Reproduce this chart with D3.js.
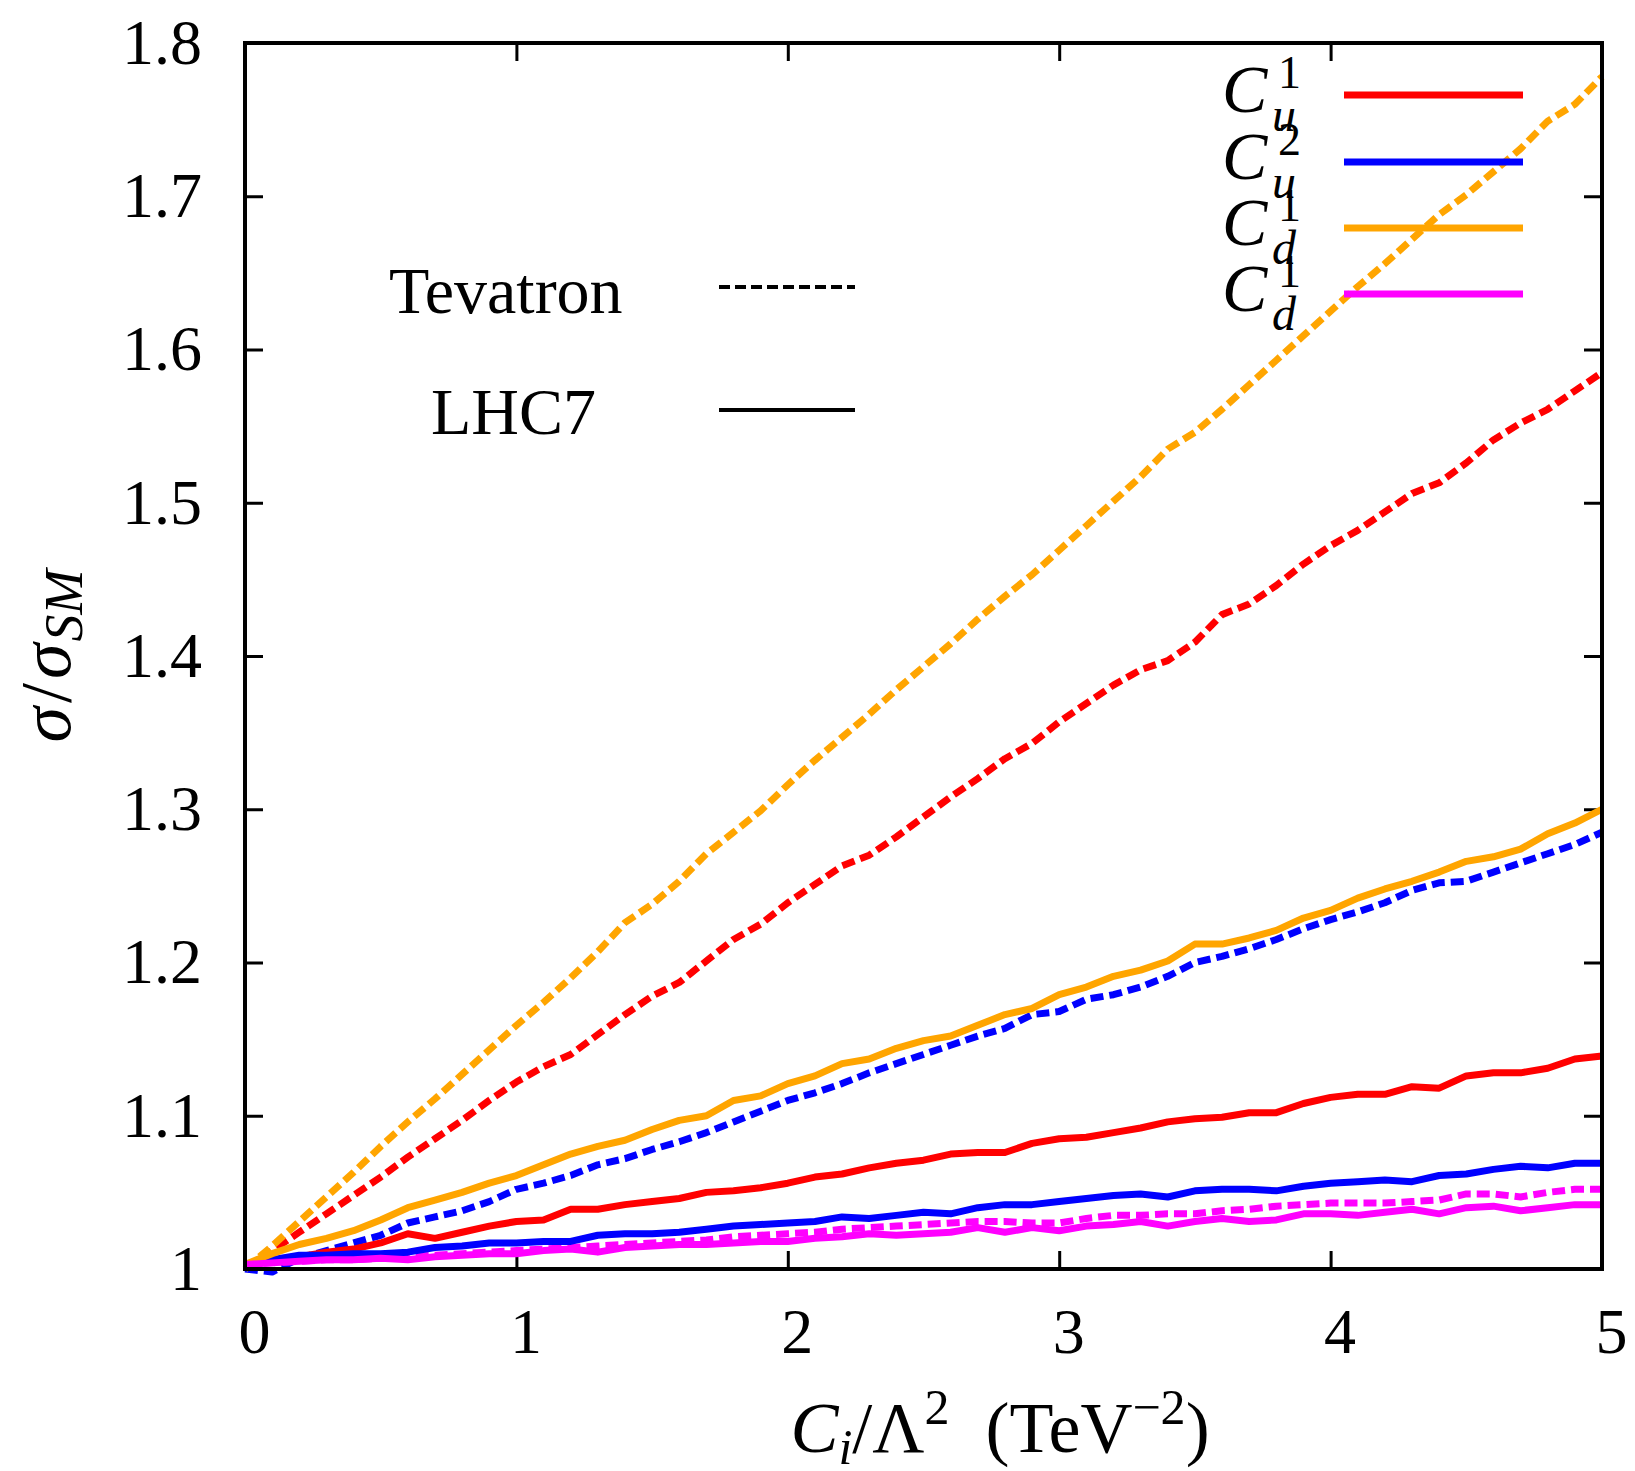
<!DOCTYPE html>
<html>
<head>
<meta charset="utf-8">
<script src="https://cdn.jsdelivr.net/npm/d3@7"></script>
<style>
  body { margin: 0; background: #fff; }
</style>
</head>
<body>
<svg id="chart" width="1635" height="1471"></svg>
<script>
// x grid (C_i / Lambda^2)
const xValues = [0,0.1,0.2,0.3,0.4,0.5,0.6,0.7,0.8,0.9,1,1.1,1.2,1.3,1.4,1.5,1.6,1.7,1.8,1.9,2,
  2.1,2.2,2.3,2.4,2.5,2.6,2.7,2.8,2.9,3,3.1,3.2,3.3,3.4,3.5,3.6,3.7,3.8,3.9,4,
  4.1,4.2,4.3,4.4,4.5,4.6,4.7,4.8,4.9,5];

// Tevatron (dashed)
const tevCu1 = [1.000,1.012,1.024,1.036,1.048,1.060,1.073,1.085,1.097,1.110,1.122,1.132,1.140,1.153,1.166,1.178,1.187,1.201,1.215,1.225,1.239,
  1.251,1.263,1.270,1.282,1.295,1.308,1.320,1.333,1.343,1.357,1.369,1.381,1.391,1.397,1.409,1.427,1.434,1.446,1.460,1.472,
  1.482,1.494,1.506,1.513,1.526,1.541,1.552,1.561,1.573,1.585];
const tevCu2 = [1.000,0.998,1.007,1.012,1.017,1.022,1.030,1.034,1.038,1.044,1.052,1.056,1.061,1.068,1.072,1.078,1.083,1.089,1.096,1.103,1.110,
  1.115,1.121,1.128,1.134,1.140,1.146,1.152,1.157,1.166,1.168,1.176,1.179,1.184,1.191,1.200,1.204,1.209,1.215,1.222,1.228,
  1.233,1.239,1.247,1.252,1.253,1.259,1.265,1.271,1.277,1.285];
const tevCd1 = [1.000,1.015,1.031,1.047,1.063,1.080,1.096,1.111,1.127,1.143,1.159,1.174,1.190,1.207,1.226,1.238,1.253,1.271,1.285,1.299,1.316,
  1.332,1.347,1.362,1.378,1.393,1.408,1.424,1.439,1.453,1.469,1.485,1.501,1.517,1.535,1.546,1.561,1.577,1.593,1.609,1.625,
  1.641,1.656,1.672,1.688,1.701,1.716,1.731,1.749,1.760,1.778];
const tevCd2 = [1.003,1.004,1.005,1.006,1.006,1.007,1.008,1.009,1.010,1.011,1.012,1.013,1.014,1.015,1.016,1.017,1.018,1.019,1.021,1.022,1.023,
  1.024,1.026,1.027,1.028,1.029,1.030,1.031,1.031,1.030,1.030,1.033,1.035,1.035,1.036,1.036,1.038,1.039,1.041,1.042,1.043,
  1.043,1.043,1.044,1.045,1.049,1.049,1.047,1.050,1.052,1.052];

// LHC7 (solid)
const lhcCu1 = [1.003,1.005,1.008,1.011,1.013,1.017,1.023,1.020,1.024,1.028,1.031,1.032,1.039,1.039,1.042,1.044,1.046,1.050,1.051,1.053,1.056,
  1.060,1.062,1.066,1.069,1.071,1.075,1.076,1.076,1.082,1.085,1.086,1.089,1.092,1.096,1.098,1.099,1.102,1.102,1.108,1.112,
  1.114,1.114,1.119,1.118,1.126,1.128,1.128,1.131,1.137,1.139];
const lhcCu2 = [1.003,1.006,1.009,1.009,1.010,1.010,1.011,1.014,1.015,1.017,1.017,1.018,1.018,1.022,1.023,1.023,1.024,1.026,1.028,1.029,1.030,
  1.031,1.034,1.033,1.035,1.037,1.036,1.040,1.042,1.042,1.044,1.046,1.048,1.049,1.047,1.051,1.052,1.052,1.051,1.054,1.056,
  1.057,1.058,1.057,1.061,1.062,1.065,1.067,1.066,1.069,1.069];
const lhcCd1 = [1.003,1.010,1.016,1.020,1.025,1.032,1.040,1.045,1.050,1.056,1.061,1.068,1.075,1.080,1.084,1.091,1.097,1.100,1.110,1.113,1.121,
  1.126,1.134,1.137,1.144,1.149,1.152,1.159,1.166,1.170,1.179,1.184,1.191,1.195,1.201,1.212,1.212,1.216,1.221,1.229,1.234,
  1.242,1.248,1.253,1.259,1.266,1.269,1.274,1.284,1.291,1.300];
const lhcCd2 = [1.003,1.004,1.005,1.006,1.006,1.007,1.006,1.008,1.009,1.010,1.010,1.012,1.013,1.011,1.014,1.015,1.016,1.016,1.017,1.018,1.018,
  1.020,1.021,1.023,1.022,1.023,1.024,1.027,1.024,1.027,1.025,1.028,1.029,1.031,1.028,1.031,1.033,1.031,1.032,1.036,1.036,
  1.035,1.037,1.039,1.036,1.040,1.041,1.038,1.040,1.042,1.042];

const xTicks = [0, 1, 2, 3, 4, 5];
const yTicks = [1, 1.1, 1.2, 1.3, 1.4, 1.5, 1.6, 1.7, 1.8];
const yTickLabels = ['1', '1.1', '1.2', '1.3', '1.4', '1.5', '1.6', '1.7', '1.8'];

const colors = { u1: '#ff0000', u2: '#0000ff', d1: '#ffa500', d2: '#ff00ff' };

const series = [
  { values: tevCu1, color: colors.u1, dashed: true },
  { values: tevCu2, color: colors.u2, dashed: true },
  { values: tevCd1, color: colors.d1, dashed: true },
  { values: tevCd2, color: colors.d2, dashed: true },
  { values: lhcCu1, color: colors.u1, dashed: false },
  { values: lhcCu2, color: colors.u2, dashed: false },
  { values: lhcCd1, color: colors.d1, dashed: false },
  { values: lhcCd2, color: colors.d2, dashed: false }
];

// legend keys, as printed in the figure
const keyLabels = [
  { sup: '1', sub: 'u', color: colors.u1 },
  { sup: '2', sub: 'u', color: colors.u2 },
  { sup: '1', sub: 'd', color: colors.d1 },
  { sup: '1', sub: 'd', color: colors.d2 }
];

const FONT = 'Liberation Serif';
const plot = { left: 245, right: 1602, top: 43, bottom: 1269 };
const svg = d3.select('#chart');

const x = d3.scaleLinear().domain([0, 5]).range([plot.left, plot.right]);
const y = d3.scaleLinear().domain([1, 1.8]).range([plot.bottom, plot.top]);

const tickLen = 18;

// Axes (ticks inward, mirrored)
const xAxis = svg.append('g')
  .attr('transform', `translate(0, ${plot.bottom})`)
  .call(d3.axisBottom(x).tickValues(xTicks).tickSize(-tickLen).tickFormat(d3.format('d')));
svg.append('g')
  .attr('transform', `translate(0, ${plot.top})`)
  .call(d3.axisTop(x).tickValues(xTicks).tickSize(-tickLen).tickFormat(''));
const yAxis = svg.append('g')
  .attr('transform', `translate(${plot.left}, 0)`)
  .call(d3.axisLeft(y).tickValues(yTicks).tickSize(-tickLen).tickFormat((d, i) => yTickLabels[i]));
svg.append('g')
  .attr('transform', `translate(${plot.right}, 0)`)
  .call(d3.axisRight(y).tickValues(yTicks).tickSize(-tickLen).tickFormat(''));

svg.selectAll('.domain').remove();
svg.selectAll('.tick line').attr('stroke', '#000').attr('stroke-width', 3);

xAxis.selectAll('.tick text')
  .attr('y', 0).attr('dy', 0)
  .attr('x', 9)
  .attr('transform', 'translate(0, 84)')
  .attr('font-size', 64)
  .attr('font-family', FONT)
  .attr('fill', '#000');

yAxis.selectAll('.tick text')
  .attr('x', -43).attr('dy', '0.32em')
  .attr('text-anchor', 'end')
  .attr('font-size', 64)
  .attr('font-family', FONT)
  .attr('fill', '#000');

// Curves
const line = d3.line()
  .x((d, i) => x(xValues[i]))
  .y(d => y(d));

svg.append('g')
  .selectAll('path')
  .data(series)
  .enter()
  .append('path')
  .attr('d', d => line(d.values))
  .attr('fill', 'none')
  .attr('stroke', d => d.color)
  .attr('stroke-width', 7)
  .attr('stroke-linejoin', 'round')
  .attr('stroke-dasharray', d => d.dashed ? '13,6' : null);

// Frame
svg.append('rect')
  .attr('x', plot.left).attr('y', plot.top)
  .attr('width', plot.right - plot.left)
  .attr('height', plot.bottom - plot.top)
  .attr('fill', 'none')
  .attr('stroke', '#000')
  .attr('stroke-width', 4);

// helper for text in the serif font
const txt = (parent, xx, yy, size) => parent.append('text')
  .attr('x', xx).attr('y', yy)
  .attr('font-family', FONT)
  .attr('font-size', size)
  .attr('fill', '#000');

// Colour key (top right)
const keyY = [95, 162, 228, 294];
const key = svg.append('g');
keyLabels.forEach((k, i) => {
  const ly = keyY[i];
  txt(key, 1222, ly + 17, 68).attr('font-style', 'italic').text('C');
  txt(key, 1278, ly - 7, 46).text(k.sup);
  txt(key, 1272, ly + 36, 48).attr('font-style', 'italic').text(k.sub);
  key.append('line')
    .attr('x1', 1344).attr('x2', 1523)
    .attr('y1', ly).attr('y2', ly)
    .attr('stroke', k.color)
    .attr('stroke-width', 7);
});

// Collider key
txt(svg, 389, 313, 66).text('Tevatron');
svg.append('line')
  .attr('x1', 719).attr('x2', 855).attr('y1', 287).attr('y2', 287)
  .attr('stroke', '#000').attr('stroke-width', 4)
  .attr('stroke-dasharray', '11,5');
txt(svg, 431, 434, 66).text('LHC7');
svg.append('line')
  .attr('x1', 719).attr('x2', 855).attr('y1', 410).attr('y2', 410)
  .attr('stroke', '#000').attr('stroke-width', 4);

// Axis titles
const xt = txt(svg, 1000, 1452, 72).attr('text-anchor', 'middle');
xt.append('tspan').attr('font-style', 'italic').text('C');
xt.append('tspan').attr('dy', 12).attr('font-size', 50).attr('font-style', 'italic').text('i');
xt.append('tspan').attr('dy', -12).text('/Λ');
xt.append('tspan').attr('dy', -28).attr('font-size', 50).text('2');
xt.append('tspan').attr('dy', 28).text('\u2002(TeV');
xt.append('tspan').attr('dy', -28).attr('font-size', 50).text('−2');
xt.append('tspan').attr('dy', 28).text(')');

const yt = txt(svg, 0, 0, 72)
  .attr('transform', 'translate(70, 656) rotate(-90)')
  .attr('text-anchor', 'middle');
yt.append('tspan').attr('font-style', 'italic').text('σ');
yt.append('tspan').attr('dx', 4).text('/');
yt.append('tspan').attr('dx', 4).attr('font-style', 'italic').text('σ');
yt.append('tspan').attr('dy', 12).attr('dx', 2).attr('font-size', 54).attr('font-style', 'italic').text('SM');
</script>
</body>
</html>
